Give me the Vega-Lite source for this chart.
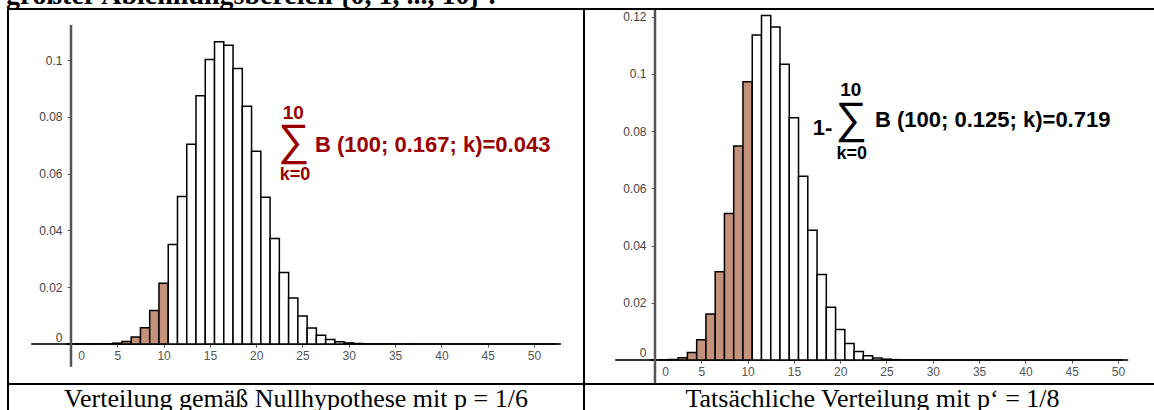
{
  "$schema": "https://vega.github.io/schema/vega-lite/v6.json",
  "padding": 0,
  "spacing": 0,
  "bounds": "flush",
  "background": "white",
  "config": {"view": {"stroke": null}, "font": "Liberation Sans"},
  "datasets": {
    "h0": [
      {"k":0,"p":0.00000001},{"k":1,"p":0.00000024},{"k":2,"p":0.0000024},{"k":3,"p":0.0000156},{"k":4,"p":0.0000757},
      {"k":5,"p":0.000291},{"k":6,"p":0.000921},{"k":7,"p":0.002473},{"k":8,"p":0.00575},{"k":9,"p":0.011755},
      {"k":10,"p":0.021394},{"k":11,"p":0.035008},{"k":12,"p":0.051929},{"k":13,"p":0.070304},{"k":14,"p":0.087378},
      {"k":15,"p":0.100194},{"k":16,"p":0.106456},{"k":17,"p":0.105204},{"k":18,"p":0.097022},{"k":19,"p":0.083746},
      {"k":20,"p":0.067834},{"k":21,"p":0.051683},{"k":22,"p":0.037117},{"k":23,"p":0.025175},{"k":24,"p":0.016154},
      {"k":25,"p":0.009822},{"k":26,"p":0.005666},{"k":27,"p":0.003106},{"k":28,"p":0.00162},{"k":29,"p":0.000804},
      {"k":30,"p":0.000381},{"k":31,"p":0.000172},{"k":32,"p":0.0000741},{"k":33,"p":0.0000306},{"k":34,"p":0.000012},
      {"k":35,"p":0.0000045},{"k":36,"p":0.0000017},{"k":37,"p":0.0000006},{"k":38,"p":0},{"k":39,"p":0},
      {"k":40,"p":0},{"k":41,"p":0},{"k":42,"p":0},{"k":43,"p":0},{"k":44,"p":0},{"k":45,"p":0},{"k":46,"p":0},
      {"k":47,"p":0},{"k":48,"p":0},{"k":49,"p":0},{"k":50,"p":0},{"k":51,"p":0},{"k":52,"p":0}
    ],
    "h1": [
      {"k":0,"p":0.0000016},{"k":1,"p":0.0000227},{"k":2,"p":0.00016},{"k":3,"p":0.000748},{"k":4,"p":0.002592},
      {"k":5,"p":0.007109},{"k":6,"p":0.01608},{"k":7,"p":0.030847},{"k":8,"p":0.051229},{"k":9,"p":0.074809},
      {"k":10,"p":0.097252},{"k":11,"p":0.113672},{"k":12,"p":0.120439},{"k":13,"p":0.116467},{"k":14,"p":0.103391},
      {"k":15,"p":0.084681},{"k":16,"p":0.064268},{"k":17,"p":0.045366},{"k":18,"p":0.029884},{"k":19,"p":0.018425},
      {"k":20,"p":0.01066},{"k":21,"p":0.005801},{"k":22,"p":0.002976},{"k":23,"p":0.001442},{"k":24,"p":0.000661},
      {"k":25,"p":0.000287},{"k":26,"p":0.000118},{"k":27,"p":0.0000463},{"k":28,"p":0.0000172},{"k":29,"p":0.0000061},
      {"k":30,"p":0},{"k":31,"p":0},{"k":32,"p":0},{"k":33,"p":0},{"k":34,"p":0},{"k":35,"p":0},{"k":36,"p":0},
      {"k":37,"p":0},{"k":38,"p":0},{"k":39,"p":0},{"k":40,"p":0},{"k":41,"p":0},{"k":42,"p":0},{"k":43,"p":0},
      {"k":44,"p":0},{"k":45,"p":0},{"k":46,"p":0},{"k":47,"p":0},{"k":48,"p":0},{"k":49,"p":0},{"k":50,"p":0}
    ]
  },
  "hconcat": [
    {
      "width": 584,
      "height": 410,
      "data": {"name": "h0"},
      "layer": [
        {
          "data": {"values": [{}]},
          "mark": {"type": "rule", "color": "#333333", "strokeWidth": 2},
          "encoding": {"x": {"datum": -4.3}, "x2": {"datum": 52.9}, "y": {"datum": 0}}
        },
        {
          "mark": {"type": "bar", "width": 9.26, "stroke": "black", "strokeWidth": 1.5},
          "encoding": {
            "x": {"field": "k", "type": "quantitative",
              "scale": {"domain": [-7.667, 55.4], "nice": false, "zero": false, "padding": 0},
              "axis": {"title": null, "values": [0,5,10,15,20,25,30,35,40,45,50], "offset": -66, "domain": false, "grid": false,
                "tickSize": 3, "tickColor": "#555555", "tickWidth": 1, "labelPadding": 3, "labelFontSize": 12,
                "labelColor": "#555555", "labelFont": "Liberation Sans", "labelFlush": false, "labelOverlap": false,
                "labelOffset": {"condition": {"test": "datum.value === 0", "value": 10}, "value": 0}}},
            "y": {"field": "p", "type": "quantitative",
              "scale": {"domain": [-0.023239, 0.121127], "nice": false, "zero": false},
              "axis": {"title": null, "values": [0,0.01,0.02,0.03,0.04,0.05,0.06,0.07,0.08,0.09,0.1,0.11], "offset": -71,
                "domain": false, "grid": false, "tickSize": 4, "tickColor": "#555555", "tickWidth": 1, "labelPadding": 5,
                "format": "~g", "labelExpr": "round(datum.value*100) % 2 == 0 ? datum.label : ''",
                "labelBaseline": {"condition": {"test": "datum.value === 0", "value": "bottom"}, "value": "middle"},
                "labelFontSize": 12, "labelColor": "#444444", "labelFont": "Liberation Sans", "labelFlush": false, "labelOverlap": false}},
            "y2": {"datum": 0},
            "fill": {"condition": {"test": "datum.k <= 10", "value": "#c4917a"}, "value": "white"}
          }
        },
        {
          "data": {"values": [{}]},
          "mark": {"type": "rule", "color": "#555555", "strokeWidth": 2.5},
          "encoding": {"x": {"datum": 0}, "y": {"datum": -0.007993}, "y2": {"datum": 0.112324}}
        },
        {
          "data": {"values": [{}]},
          "mark": {"type": "rule", "color": "black", "strokeWidth": 2},
          "encoding": {"x": {"datum": -6.803}, "x2": {"datum": 55.4}, "y": {"datum": 0.117958}}
        },
        {
          "data": {"values": [{}]},
          "mark": {"type": "rule", "color": "black", "strokeWidth": 2},
          "encoding": {"x": {"datum": -6.803}, "y": {"datum": 0.117958}, "y2": {"datum": -0.023239}}
        },
        {
          "data": {"values": [{}]},
          "mark": {"type": "rule", "color": "black", "strokeWidth": 2},
          "encoding": {"x": {"datum": 55.4}, "y": {"datum": 0.117958}, "y2": {"datum": -0.023239}}
        },
        {
          "data": {"values": [{}]},
          "mark": {"type": "rule", "color": "black", "strokeWidth": 2},
          "encoding": {"x": {"datum": -6.803}, "x2": {"datum": 55.4}, "y": {"datum": -0.014085}}
        },
        {
          "data": {"values": [{}]},
          "mark": {"type": "text", "align": "center", "baseline": "middle", "font": "Liberation Sans", "fontSize": 19, "fontWeight": "bold", "color": "#990000"},
          "encoding": {"x": {"datum": 24.006}, "y": {"datum": 0.0812}, "text": {"value": "10"}}
        },
        {
          "data": {"values": [{}]},
          "mark": {"type": "text", "align": "center", "baseline": "middle", "font": "Liberation Sans", "fontSize": 44, "fontWeight": "normal", "color": "#990000"},
          "encoding": {"x": {"datum": 24.08}, "y": {"datum": 0.0712}, "text": {"value": "∑"}}
        },
        {
          "data": {"values": [{}]},
          "mark": {"type": "text", "align": "center", "baseline": "middle", "font": "Liberation Sans", "fontSize": 18, "fontWeight": "bold", "color": "#990000"},
          "encoding": {"x": {"datum": 24.19}, "y": {"datum": 0.0596}, "text": {"value": "k=0"}}
        },
        {
          "data": {"values": [{}]},
          "mark": {"type": "text", "align": "left", "baseline": "middle", "font": "Liberation Sans", "fontSize": 22, "fontWeight": "bold", "color": "#990000"},
          "encoding": {"x": {"datum": 26.35}, "y": {"datum": 0.07007}, "text": {"value": "B (100; 0.167; k)=0.043"}}
        },
        {
          "data": {"values": [{}]},
          "mark": {"type": "text", "clip": true, "align": "right", "baseline": "alphabetic", "font": "Liberation Serif", "fontSize": 28, "fontWeight": "bold", "color": "black"},
          "encoding": {"x": {"datum": 46.0}, "y": {"datum": 0.1197}, "text": {"value": "größter Ablehnungsbereich {0, 1, ..., 10} :"}}
        },
        {
          "data": {"values": [{}]},
          "mark": {"type": "text", "clip": true, "align": "center", "baseline": "alphabetic", "font": "Liberation Serif", "fontSize": 26, "color": "black"},
          "encoding": {"x": {"datum": 24.298}, "y": {"datum": -0.022183}, "text": {"value": "Verteilung gemäß Nullhypothese mit p = 1/6"}}
        }
      ]
    },
    {
      "width": 570,
      "height": 410,
      "data": {"name": "h1"},
      "layer": [
        {
          "data": {"values": [{}]},
          "mark": {"type": "rule", "color": "#333333", "strokeWidth": 2},
          "encoding": {"x": {"datum": -4.3}, "x2": {"datum": 51.1}, "y": {"datum": 0}}
        },
        {
          "mark": {"type": "bar", "width": 9.26, "stroke": "black", "strokeWidth": 1.5},
          "encoding": {
            "x": {"field": "k", "type": "quantitative",
              "scale": {"domain": [-7.667, 53.888], "nice": false, "zero": false, "padding": 0},
              "axis": {"title": null, "values": [0,5,10,15,20,25,30,35,40,45,50], "offset": -50, "domain": false, "grid": false,
                "tickSize": 3, "tickColor": "#555555", "tickWidth": 1, "labelPadding": 3, "labelFontSize": 12,
                "labelColor": "#555555", "labelFont": "Liberation Sans", "labelFlush": false, "labelOverlap": false,
                "labelOffset": {"condition": {"test": "datum.value === 0", "value": 10}, "value": 0}}},
            "y": {"field": "p", "type": "quantitative",
              "scale": {"domain": [-0.017483, 0.125874], "nice": false, "zero": false},
              "axis": {"title": null, "values": [0,0.01,0.02,0.03,0.04,0.05,0.06,0.07,0.08,0.09,0.1,0.11,0.12], "offset": -71,
                "domain": false, "grid": false, "tickSize": 4, "tickColor": "#555555", "tickWidth": 1, "labelPadding": 5,
                "format": "~g", "labelExpr": "round(datum.value*100) % 2 == 0 ? datum.label : ''",
                "labelBaseline": {"condition": {"test": "datum.value === 0", "value": "bottom"}, "value": "middle"},
                "labelFontSize": 12, "labelColor": "#444444", "labelFont": "Liberation Sans", "labelFlush": false, "labelOverlap": false}},
            "y2": {"datum": 0},
            "fill": {"condition": {"test": "datum.k <= 10", "value": "#c4917a"}, "value": "white"}
          }
        },
        {
          "data": {"values": [{}]},
          "mark": {"type": "rule", "color": "#555555", "strokeWidth": 2.5},
          "encoding": {"x": {"datum": 0}, "y": {"datum": -0.008042}, "y2": {"datum": 0.122378}}
        },
        {
          "data": {"values": [{}]},
          "mark": {"type": "rule", "color": "black", "strokeWidth": 2},
          "encoding": {"x": {"datum": -7.667}, "x2": {"datum": 53.888}, "y": {"datum": 0.122727}}
        },
        {
          "data": {"values": [{}]},
          "mark": {"type": "rule", "color": "black", "strokeWidth": 2},
          "encoding": {"x": {"datum": -7.667}, "x2": {"datum": 53.888}, "y": {"datum": -0.0083916}}
        },
        {
          "data": {"values": [{}]},
          "mark": {"type": "text", "align": "center", "baseline": "middle", "font": "Liberation Sans", "fontSize": 22, "fontWeight": "bold", "color": "black"},
          "encoding": {"x": {"datum": 18.09}, "y": {"datum": 0.08101}, "text": {"value": "1-"}}
        },
        {
          "data": {"values": [{}]},
          "mark": {"type": "text", "align": "center", "baseline": "middle", "font": "Liberation Sans", "fontSize": 19, "fontWeight": "bold", "color": "black"},
          "encoding": {"x": {"datum": 21.14}, "y": {"datum": 0.0945}, "text": {"value": "10"}}
        },
        {
          "data": {"values": [{}]},
          "mark": {"type": "text", "align": "center", "baseline": "middle", "font": "Liberation Sans", "fontSize": 44, "fontWeight": "normal", "color": "black"},
          "encoding": {"x": {"datum": 21.22}, "y": {"datum": 0.0838}, "text": {"value": "∑"}}
        },
        {
          "data": {"values": [{}]},
          "mark": {"type": "text", "align": "center", "baseline": "middle", "font": "Liberation Sans", "fontSize": 18, "fontWeight": "bold", "color": "black"},
          "encoding": {"x": {"datum": 21.24}, "y": {"datum": 0.0722}, "text": {"value": "k=0"}}
        },
        {
          "data": {"values": [{}]},
          "mark": {"type": "text", "align": "left", "baseline": "middle", "font": "Liberation Sans", "fontSize": 22, "fontWeight": "bold", "color": "black"},
          "encoding": {"x": {"datum": 23.76}, "y": {"datum": 0.08392}, "text": {"value": "B (100; 0.125; k)=0.719"}}
        },
        {
          "data": {"values": [{}]},
          "mark": {"type": "text", "clip": true, "align": "center", "baseline": "alphabetic", "font": "Liberation Serif", "fontSize": 26, "color": "black"},
          "encoding": {"x": {"datum": 23.488}, "y": {"datum": -0.016434}, "text": {"value": "Tatsächliche Verteilung mit p‘ = 1/8"}}
        }
      ]
    }
  ]
}
